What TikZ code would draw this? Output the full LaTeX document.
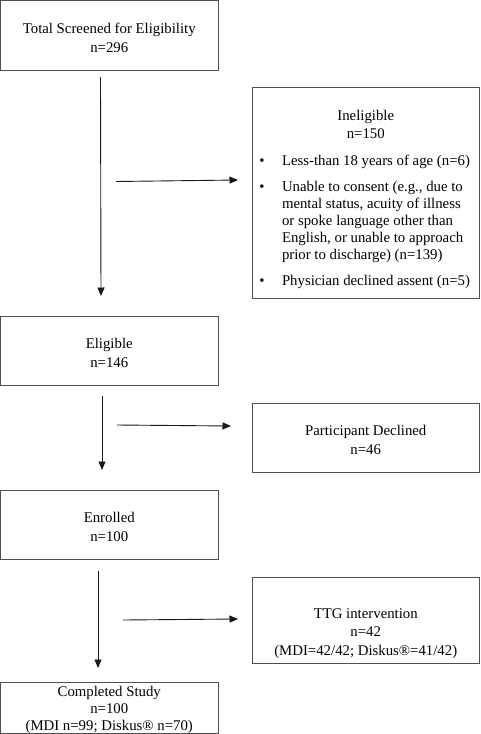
\documentclass[tikz,border=0pt]{standalone}
\usepackage{fontspec}
\setmainfont{Liberation Serif}
\usetikzlibrary{arrows.meta,calc}
\definecolor{boxgray}{HTML}{505050}
\definecolor{arrowgray}{HTML}{1A1A1A}
\tikzset{
  box/.style={draw=boxgray, line width=0.9pt, inner sep=0pt, outer sep=0pt},
  lbl/.style={inner sep=0pt, outer sep=0pt, align=center, yshift=-2.5pt,
    font=\fontsize{14.8}{18.5}\selectfont},
  txt/.style={inner sep=0pt, outer sep=0pt, font=\fontsize{14.8}{17}\selectfont},
  flow/.style={draw=arrowgray, line width=0.9pt, -{Triangle[length=8.5pt,width=7pt]}},
}
\begin{document}
\begin{tikzpicture}[x=1pt,y=-1pt]
\useasboundingbox (0,0) rectangle (480,734);

% left column boxes
\node[box, minimum width=217.5pt, minimum height=69.5pt] (total) at (109.25,35.25) {};
\node[lbl] (totalt) at (total.center) {Total Screened for Eligibility\\n=296};
\node[box, minimum width=217.5pt, minimum height=69pt] (elig) at (109.25,350.5) {};
\node[lbl] (eligt) at (elig.center) {Eligible\\n=146};
\node[box, minimum width=217.5pt, minimum height=69pt] (enr) at (109.25,524.5) {};
\node[lbl] (enrt) at (enr.center) {Enrolled\\n=100};
\node[box, minimum width=217.5pt, minimum height=51.5pt] (comp) at (109.25,707.75) {};
\node[lbl, font=\fontsize{14.8}{17}\selectfont] (compt) at (comp.center)
  {Completed Study\\n=100\\(MDI n=99; Diskus® n=70)};

% right column boxes
\node[box, minimum width=226.5pt, minimum height=211pt] (inel) at (365.75,192.5) {};
\node[box, minimum width=226.5pt, minimum height=69pt] (decl) at (365.75,437.5) {};
\node[lbl] (declt) at (decl.center) {Participant Declined\\n=46};
\node[box, minimum width=226.5pt, minimum height=86pt] (ttg) at (365.75,620) {};
\node[lbl] (ttgt) at (365.75,631)
  {TTG intervention\\n=42\\(MDI=42/42; Diskus®=41/42)};

% Ineligible contents
\node[txt, anchor=base] (ineltitle) at (365.75,120) {Ineligible};
\node[txt, anchor=base] (inelnum) at (365.75,138.5) {n=150};
\node[txt, anchor=base] (b1) at (262,165.5) {•};
\node[txt, anchor=base west] (i1) at (282,165.5) {Less-than 18 years of age (n=6)};
\node[txt, anchor=base] (b2) at (262,191.5) {•};
\node[txt, anchor=base west] (i2a) at (282,191.5) {Unable to consent (e.g., due to};
\node[txt, anchor=base west] (i2b) at (282,208.5) {mental status, acuity of illness};
\node[txt, anchor=base west] (i2c) at (282,225.5) {or spoke language other than};
\node[txt, anchor=base west] (i2d) at (282,242.5) {English, or unable to approach};
\node[txt, anchor=base west] (i2e) at (282,259.5) {prior to discharge) (n=139)};
\node[txt, anchor=base] (b3) at (262,285.5) {•};
\node[txt, anchor=base west] (i3) at (282,285.5) {Physician declined assent (n=5)};

% connector end points
\coordinate (v1s) at (100.5,77);
\coordinate (v1e) at (101,296);
\coordinate (h1s) at (116,181.5);
\coordinate (h1e) at (238,180);
\coordinate (v2s) at (102,396);
\coordinate (v2e) at (102,470);
\coordinate (h2s) at (117,425);
\coordinate (h2e) at (231,426);
\coordinate (v3s) at (98,571);
\coordinate (v3e) at (98,668);
\coordinate (h3s) at (123,620);
\coordinate (h3e) at (238,619);

\draw[flow] (v1s) -- (v1e);
\draw[flow] (h1s) -- (h1e);
\draw[flow] (v2s) -- (v2e);
\draw[flow] (h2s) -- (h2e);
\draw[flow] (v3s) -- (v3e);
\draw[flow] (h3s) -- (h3e);
\end{tikzpicture}
\end{document}
